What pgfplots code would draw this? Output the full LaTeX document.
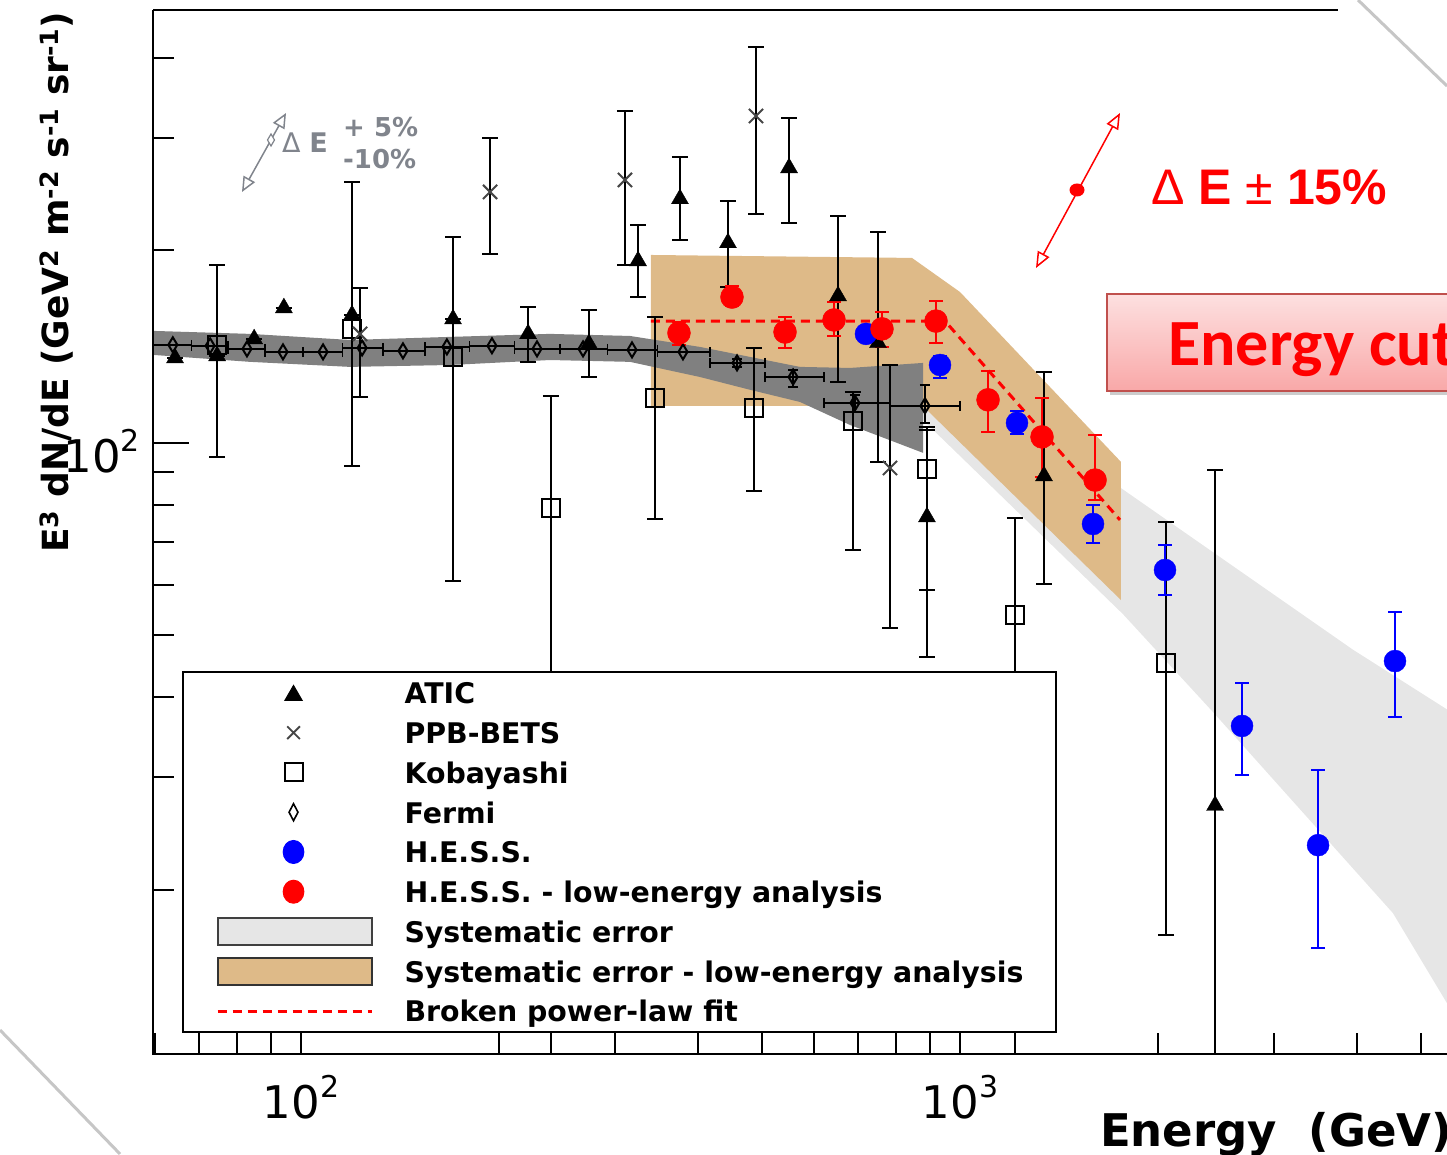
\documentclass[border=0pt]{standalone}
\usepackage{pgfplots}
\pgfplotsset{compat=1.18}
\usepackage{pgfplotstable}
\usepackage{fontspec}
\setmainfont{DejaVu Sans}
\newfontfamily\arialfont{Liberation Sans}
\newfontfamily\calibrifont{Carlito}
\usetikzlibrary{arrows.meta,shadows}

\definecolor{tanband}{RGB}{222,186,136}
\definecolor{lgband}{RGB}{230,230,230}
\definecolor{dgband}{RGB}{128,128,128}
\definecolor{annogray}{RGB}{128,132,140}
\definecolor{boxborder}{RGB}{192,80,77}
\definecolor{boxtop}{RGB}{253,224,224}
\definecolor{boxbot}{RGB}{249,168,168}
\definecolor{ppbgray}{RGB}{70,70,70}

\newcommand{\tsup}[1]{\raisebox{21pt}{\fontsize{30}{30}\selectfont #1}}

\pgfplotstableread{
x y yp ym
64.4 135.8 0 0
74.6 136.8 0 0
84.9 145.4 0 0
94.2 162.6 0 0
119.5 158.5 0 0
170.1 156.2 0 0
221.1 148.1 15.0 14.2
273.5 142.9 18.5 16.1
324.7 192.6 26.6 23.5
375.9 240.8 39.3 33.1
444.5 205.5 33.5 30.1
550.3 269.2 53.1 48.4
653.0 169.8 56.7 45.2
750.9 143.4 70.4 50.0
890.9 76.6 28.2 17.7
1341 88.8 40.3 28.6
2438 27.1 63.6 17.0
}\atic

\pgfplotstableread{
x y yp ym
122.9 148.1 26.7 30.1
193.6 246.9 53.0 49.4
310.2 257.8 72.7 67.9
490.2 324.6 91.6 96.6
783.1 91.4 41.0 40.0
}\ppb

\pgfplotstableread{
x y yp ym
74.6 142.4 47.5 47.3
119.5 150.8 105.1 58.7
170.1 136.3 73.7 75.4
239.5 79.1 39.3 69.1
344.5 117.6 39.8 41.5
486.8 113.4 27.4 29.3
687.9 108.2 12.0 40.2
890.9 91.1 15.0 44.8
1211.8 53.8 22.5 43.8
2054 45.3 29.9 28.3
}\koba

\pgfplotstableread{
x y xp xm yp ym
63.9 142.4 4.3 4.3 0 0
72.8 141.9 4.8 4.6 0 0
82.8 140.3 5.4 5.2 0 0
93.9 138.8 6.8 5.7 0 0
108.0 138.8 7.6 7.3 0 0
123.8 140.8 9.2 8.2 0 0
142.8 139.3 11.5 9.8 0 0
166.5 141.3 13.7 12.2 0 0
194.9 141.9 16.0 14.7 0 0
228.1 140.3 19.1 17.2 0 0
267.9 140.3 23.9 20.7 0 0
317.9 139.8 29.6 26.1 0 0
379.9 138.8 37.5 32.4 0 0
458.8 133.4 47.1 41.4 2 2
558.1 126.8 63.8 52.2 3.2 4.4
692.8 115.5 90.3 70.9 3.4 3.7
884.8 114.3 115.2 101.7 9.0 6.8
}\fermi

\pgfplotstableread{
x y yp ym
720.0 148.1 0 0
932.6 132.4 4.4 6.0
1220.3 107.5 4.7 4.2
1591.7 74.7 5.3 4.9
2046.9 63.3 6.0 5.4
2679 36.1 6.0 5.8
3494 23.5 7.3 7.3
4572 45.6 8.8 8.3
}\hess

\pgfplotstableread{
x y yp ym
374.6 148.6 6.1 6.2
450.8 169.1 6.9 5.4
542.6 149.1 8.3 8.3
643.9 155.7 10.4 8.7
761.4 150.8 9.5 9.5
919.6 155.1 11.6 11.7
1102.9 116.8 12.8 12.8
1331.8 102.2 15.4 13.7
1603.1 87.5 15.4 6.1
}\hesslow

\begin{document}
\begin{tikzpicture}[x=1pt,y=1pt]
\useasboundingbox (0,0) rectangle (1447,1154);
\clip (0,0) rectangle (1447,1154);
\begin{axis}[
  at={(153pt,100pt)}, anchor=south west,
  scale only axis, width=1294pt, height=1044pt,
  xmode=log, ymode=log,
  xmin=59.63, xmax=5483, ymin=11.08, ymax=475.4,
  axis line style={draw=none},
  tick pos=left, tick align=inside,
  xtick={100,1000}, xticklabels={10\tsup{2},10\tsup{3}},
  ytick={100}, yticklabels={10\tsup{2}},
  minor xtick={60,70,80,90,200,300,400,500,600,700,800,900,2000,3000,4000,5000},
  minor ytick={20,30,40,50,60,70,80,90,200,300,400},
  major tick length=36pt, minor tick length=21pt,
  tick style={black, line width=2pt},
  tick label style={font=\fontsize{45}{45}\selectfont},
  xticklabel style={inner sep=0pt, yshift=-21pt},
  yticklabel style={inner sep=0pt, xshift=-13pt, yshift=-8pt},
  legend cell align=left,
  legend style={
    at={(axis description cs:0.02241,0.36686)}, anchor=north west,
    draw=black, line width=2pt, fill=white,
    inner xsep=33pt, inner ysep=4pt, row sep=5.75pt,
    font=\bfseries\fontsize{28.4}{28.4}\selectfont,
    nodes={inner sep=0pt, text height=28pt, text depth=6pt, anchor=west},
  },
]
% bands
\addplot[forget plot, fill=lgband, draw=none] coordinates {
 (756.1,133.9) (878.7,134.8) (1755,85.0) (3948,47.5) (5736,37.2)
 (5736,12.3) (5483,13.3) (4539,18.4) (2429,37.8) (1767,54.0) (878.7,108.6) (756.1,108.6)
} -- cycle;
\addplot[forget plot, fill=tanband, draw=none] coordinates {
 (339.7,196.8) (845.5,194.7) (1000,172.2) (1755,93.4) (1755,56.8) (884.8,113.4) (571.7,114.3) (339.7,114.3)
} -- cycle;
\addplot[forget plot, fill=dgband, draw=none] coordinates {
 (59.63,149.7) (83.7,148.1) (118.7,144.9) (168.3,146.5) (238.7,148.1) (315.7,147.0) (403.1,141.3) (480.1,136.3) (571.7,131.5) (680.8,131.0) (878.7,133.4)
 (878.7,96.5) (680.8,106.7) (571.7,115.9) (480.1,121.1) (403.1,126.8) (315.7,133.9) (238.7,134.8) (168.3,132.4) (118.7,131.5) (83.7,133.9) (59.63,137.3)
} -- cycle;
% fit
\addplot[forget plot, red, line width=3pt, dash pattern=on 9pt off 6pt] coordinates {(339.7,155.1) (948.9,155.1) (1748.9,75.8)};
% Fermi
\addplot[forget plot, only marks, mark=diamond, mark size=7.5pt,
  mark options={xscale=0.8, draw=black, fill=dgband, line width=2pt},
  error bars/.cd, x dir=both, x explicit, y dir=both, y explicit,
  error bar style={black, line width=1.8pt},
  error mark options={rotate=90, black, line width=1.8pt, mark size=5pt}]
 table[x=x, y=y, x error plus=xp, x error minus=xm, y error plus=yp, y error minus=ym] {\fermi};
% Kobayashi
\addplot[forget plot, only marks, mark=square, mark size=9pt,
  mark options={draw=black, fill=white, line width=2pt},
  error bars/.cd, y dir=both, y explicit,
  error bar style={black, line width=2pt},
  error mark options={rotate=90, black, line width=2pt, mark size=8pt}]
 table[x=x, y=y, y error plus=yp, y error minus=ym] {\koba};
% PPB-BETS
\addplot[forget plot, only marks, mark=x, mark size=10pt,
  mark options={draw=ppbgray, line width=2pt},
  error bars/.cd, y dir=both, y explicit,
  error bar style={black, line width=2pt},
  error mark options={rotate=90, black, line width=2pt, mark size=8pt}]
 table[x=x, y=y, y error plus=yp, y error minus=ym] {\ppb};
% ATIC
\addplot[forget plot, only marks, mark=triangle*, mark size=9.8pt,
  mark options={draw=black, fill=black},
  error bars/.cd, y dir=both, y explicit,
  error bar style={black, line width=2pt},
  error mark options={rotate=90, black, line width=2pt, mark size=8pt}]
 table[x=x, y=y, y error plus=yp, y error minus=ym] {\atic};
% HESS
\addplot[forget plot, only marks, mark=*, mark size=11pt,
  mark options={draw=blue, fill=blue},
  error bars/.cd, y dir=both, y explicit,
  error bar style={blue, line width=2pt},
  error mark options={rotate=90, blue, line width=2pt, mark size=7pt}]
 table[x=x, y=y, y error plus=yp, y error minus=ym] {\hess};
% HESS low energy
\addplot[forget plot, only marks, mark=*, mark size=11.5pt,
  mark options={draw=red, fill=red},
  error bars/.cd, y dir=both, y explicit,
  error bar style={red, line width=2pt},
  error mark options={rotate=90, red, line width=2pt, mark size=7pt}]
 table[x=x, y=y, y error plus=yp, y error minus=ym] {\hesslow};

% legend
\addlegendimage{legend image code/.code={
  \path[draw=none,fill=none] (0pt,-15pt) rectangle (187pt,15pt);
  \draw[black, fill=black, line width=1pt, mark=triangle*, mark size=10pt] plot coordinates {(76pt,-2.5pt)};}}
\addlegendentry{ATIC}
\addlegendimage{legend image code/.code={
  \path[draw=none,fill=none] (0pt,-15pt) rectangle (187pt,15pt);
  \draw[ppbgray, line width=1.8pt, mark=x, mark size=9pt] plot coordinates {(76pt,0pt)};}}
\addlegendentry{PPB-BETS}
\addlegendimage{legend image code/.code={
  \path[draw=none,fill=none] (0pt,-15pt) rectangle (187pt,15pt);
  \draw[black, fill=white, line width=2pt, mark=square, mark size=9pt] plot coordinates {(76pt,0pt)};}}
\addlegendentry{Kobayashi}
\addlegendimage{legend image code/.code={
  \path[draw=none,fill=none] (0pt,-15pt) rectangle (187pt,15pt);
  \draw[black, fill=white, line width=1.6pt, mark=diamond, mark size=8.5pt, mark options={xscale=0.7}] plot coordinates {(76pt,0pt)};}}
\addlegendentry{Fermi}
\addlegendimage{legend image code/.code={
  \path[draw=none,fill=none] (0pt,-15pt) rectangle (187pt,15pt);
  \draw[blue, fill=blue, line width=1pt, mark=*, mark size=11.5pt, mark options={xscale=0.9}] plot coordinates {(76pt,0pt)};}}
\addlegendentry{H.E.S.S.}
\addlegendimage{legend image code/.code={
  \path[draw=none,fill=none] (0pt,-15pt) rectangle (187pt,15pt);
  \draw[red, fill=red, line width=1pt, mark=*, mark size=11.5pt, mark options={xscale=0.9}] plot coordinates {(76pt,0pt)};}}
\addlegendentry{H.E.S.S. - low-energy analysis}
\addlegendimage{legend image code/.code={
  \path[draw=none,fill=none] (0pt,-15pt) rectangle (187pt,15pt);
  \draw[draw=black!75, line width=2pt, fill=lgband] (0pt,-13.5pt) rectangle (154pt,13.5pt);}}
\addlegendentry{Systematic error}
\addlegendimage{legend image code/.code={
  \path[draw=none,fill=none] (0pt,-15pt) rectangle (187pt,15pt);
  \draw[draw=black!80, line width=2pt, fill=tanband] (0pt,-13.5pt) rectangle (154pt,13.5pt);}}
\addlegendentry{Systematic error - low-energy analysis}
\addlegendimage{legend image code/.code={
  \path[draw=none,fill=none] (0pt,-15pt) rectangle (187pt,15pt);
  \draw[red, line width=3pt, dash pattern=on 9pt off 6pt] (0pt,-1pt) -- (154pt,-1pt);}}
\addlegendentry{Broken power-law fit}
\end{axis}

% frame
\draw[black, line width=2.5pt] (153,1144) -- (153,100) -- (1450,100);
\draw[black, line width=2.5pt] (153,1144) -- (1338,1144);

% axis labels
\node[rotate=90, anchor=base west, inner sep=0pt, font=\bfseries\fontsize{36}{36}\selectfont] at (68,601)
  {E\textsuperscript{3} dN/dE (GeV\textsuperscript{2} m\textsuperscript{-2} s\textsuperscript{-1} sr\textsuperscript{-1})};
\node[anchor=base west, inner sep=0pt, font=\bfseries\fontsize{45}{45}\selectfont] at (1100,8) {Energy\ \ (GeV)};

% grey annotation
\draw[annogray, line width=1.5pt, {Triangle[open,length=15pt,width=13pt]}-{Triangle[open,length=15pt,width=13pt]}] (242,962) -- (286,1041);
\draw[annogray, line width=1.2pt, fill=white] (271,1020) -- (274.5,1014) -- (271,1008) -- (267.5,1014) -- cycle;
\node[anchor=base west, inner sep=0pt, text=annogray, font=\fontsize{27}{27}\selectfont] at (282,1001) {Δ \textbf{E}};
\node[anchor=base west, inner sep=0pt, text=annogray, font=\bfseries\fontsize{26}{26}\selectfont] at (343,1017) {+ 5\%};
\node[anchor=base west, inner sep=0pt, text=annogray, font=\bfseries\fontsize{26}{26}\selectfont] at (343,985) {-10\%};

% red annotation
\draw[red, line width=1.5pt, {Triangle[open,length=16pt,width=13pt]}-{Triangle[open,length=16pt,width=13pt]}] (1036,886) -- (1120,1041);
\fill[red] (1077,964) ellipse (7.5pt and 6.5pt);
\node[anchor=base west, inner sep=0pt, text=red, font=\arialfont\fontsize{50}{50}\selectfont] at (1151,949) {Δ \textbf{E} ± \textbf{15\%}};

% energy cut box
\path[draw=boxborder, line width=2pt, top color=boxtop, bottom color=boxbot,
  drop shadow={shadow xshift=3pt, shadow yshift=-4pt, opacity=0.4}] (1107,763) rectangle (1480,860);
\node[anchor=base west, inner sep=0pt, text=red, font=\calibrifont\bfseries\fontsize{66}{66}\selectfont] at (1168,788) {Energy cut};

% slide corners
\draw[gray!45, line width=3pt] (1358,1154) -- (1447,1068);
\draw[gray!45, line width=3pt] (0,124) -- (120,0);
\end{tikzpicture}
\end{document}
